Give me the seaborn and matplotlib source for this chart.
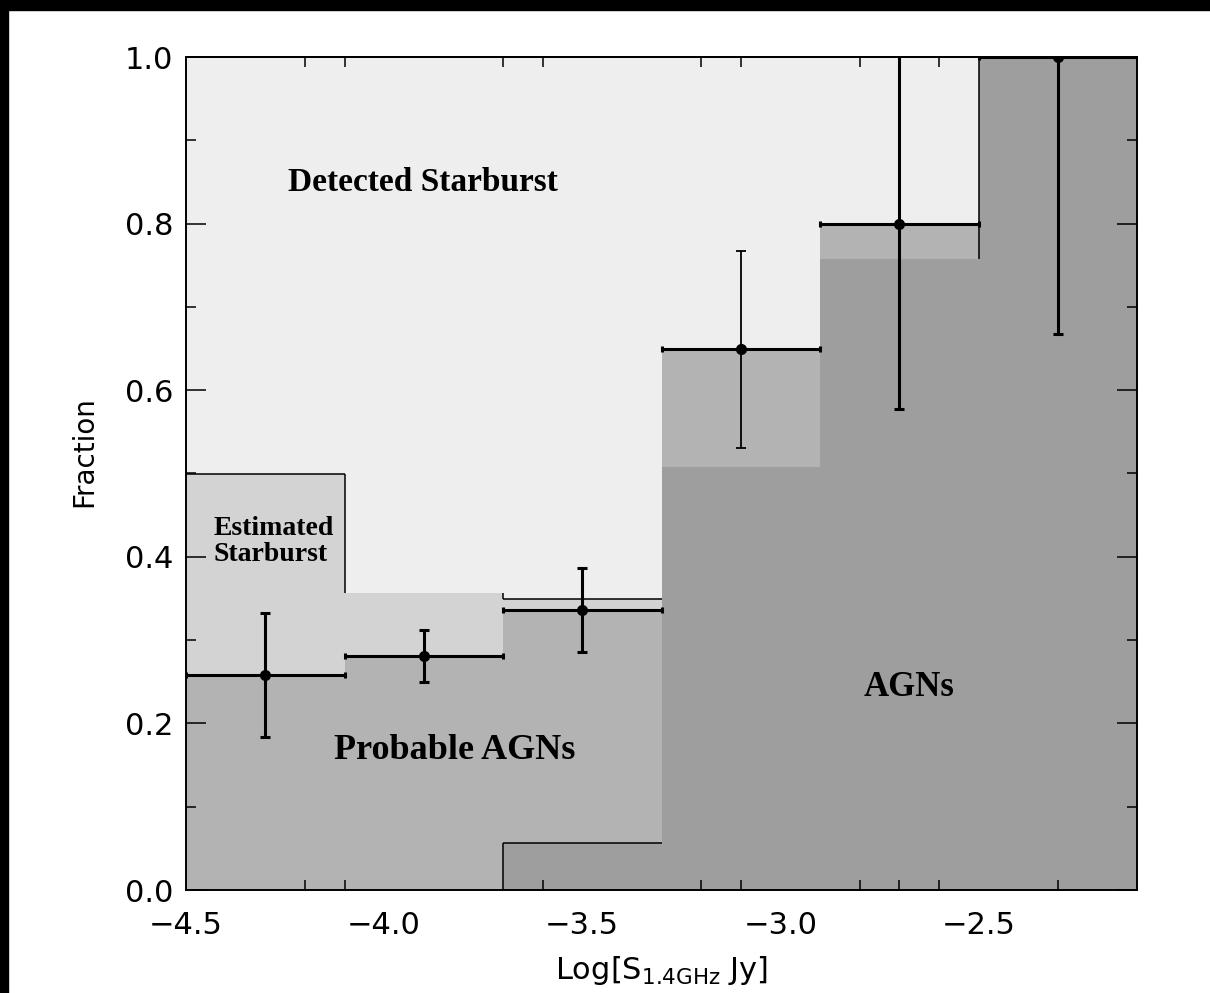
import numpy as np
import matplotlib
matplotlib.use('Agg')
import matplotlib.pyplot as plt
import seaborn as sns
from matplotlib.patches import Rectangle

# bins in Log[S_1.4GHz / Jy]
edges = [-4.5, -4.1, -3.7, -3.3, -2.9, -2.5, -2.1]
centers = [-4.3, -3.9, -3.5, -3.1, -2.7, -2.3]

# AGN fraction with error range
frac = [0.258, 0.281, 0.336, 0.650, 0.799, 1.0]
frac_lo = [0.184, 0.250, 0.286, 0.531, 0.577, 0.668]
frac_hi = [0.332, 0.312, 0.386, 0.767, 1.02, 1.0]

# shaded regions
est_top = [0.500, 0.356, 0.349, 0.0, 0.0, 0.0]   # estimated starburst
agn_top = [0.0, 0.0, 0.057, 0.508, 0.758, 1.0]   # AGNs

xticks = [-4.5, -4.0, -3.5, -3.0, -2.5]
xminor_bot = [-4.2, -4.1, -3.6, -3.2, -3.1, -2.8, -2.7, -2.6, -2.5, -2.3]
xminor_top = [-4.2, -4.1, -3.7, -3.6, -3.2, -3.1, -2.8, -2.6]

sns.set_style('ticks')
plt.rcParams['font.family'] = ['DejaVu Sans']
plt.rcParams['mathtext.default'] = 'regular'
plt.rcParams['axes.linewidth'] = 1.4
for key in ['text.color', 'axes.labelcolor', 'xtick.color', 'ytick.color', 'axes.edgecolor']:
    plt.rcParams[key] = 'black'

fig = plt.figure(figsize=(12.1, 9.93), dpi=100)
ax = fig.add_axes([186/1210, 1 - 890/993, 951/1210, 833/993])
ax.set_facecolor('#eeeeee')

# filled steps
for vals, col in [(est_top, '#d3d3d3'), (frac, '#b3b3b3'), (agn_top, '#9d9e9d')]:
    sns.histplot(x=centers, weights=vals, bins=edges, element='step', fill=True,
                 color=col, alpha=1, linewidth=0, ax=ax)

# partial outlines
ax.hlines([est_top[0], est_top[2]], [edges[0], edges[2]], [edges[1], edges[3]], color='k', lw=1.1)
ax.vlines(edges[1], est_top[1], est_top[0], color='k', lw=1.1)
ax.vlines(edges[2], est_top[2], est_top[1], color='k', lw=1.1)
ax.vlines(edges[2], 0, agn_top[2], color='k', lw=1.1)
ax.hlines(agn_top[2], edges[2], edges[3], color='k', lw=1.1)
ax.vlines(edges[5], agn_top[4], agn_top[5], color='k', lw=1.1)

# error bars
vlw = [2.2, 2.2, 2.2, 1.3, 2.2, 2.2]
for i in range(len(centers)):
    ax.errorbar(centers[i], frac[i],
                yerr=[[frac[i] - frac_lo[i]], [frac_hi[i] - frac[i]]],
                fmt='none', ecolor='k', elinewidth=vlw[i], capsize=3.6, capthick=vlw[i])
half = np.diff(edges) / 2
ax.errorbar(centers, frac, xerr=half, fmt='o', color='k', ms=7,
            elinewidth=2.2, capsize=2.5, capthick=2.2)

# region labels
serif = dict(family='Liberation Serif', weight='bold', color='k')
ax.text(-4.243, 0.8395, 'Detected Starburst', fontsize=24, va='baseline', **serif)
ax.text(-4.431, 0.418, 'Estimated\nStarburst', fontsize=20, va='center', ha='left',
        linespacing=1.05, **serif)
ax.text(-4.127, 0.157, 'Probable AGNs', fontsize=26, va='baseline', **serif)
ax.text(-2.79, 0.233, 'AGNs', fontsize=25, va='baseline', **serif)

ax.set_axisbelow(False)
ax.set_xlim(edges[0], edges[-1])
ax.set_ylim(0, 1.0)
ax.set_xticks(xticks)
ax.set_xticklabels([f'\u2212{abs(t):.1f}' for t in xticks])
ax.set_xticks(xminor_bot, minor=True)
ax.set_yticks([0.0, 0.2, 0.4, 0.6, 0.8, 1.0])
ax.set_yticks(np.arange(0.1, 1.0, 0.2), minor=True)
ax.yaxis.set_ticks_position('both')
ax.tick_params(axis='x', which='major', length=0, labelsize=22, pad=15)
ax.tick_params(axis='x', which='minor', direction='in', length=7.2, width=1.1, top=False)
ax.tick_params(axis='y', which='major', direction='in', length=14.4, width=1.1,
               labelsize=22, pad=9, left=True, right=True, labelright=False)
ax.tick_params(axis='y', which='minor', direction='in', length=7.2, width=1.1,
               left=True, right=True)

top = ax.secondary_xaxis('top')
top.set_xticks([])
top.set_xticks(xminor_top, minor=True)
top.tick_params(axis='x', which='minor', direction='in', length=7.2, width=1.1, color='k')
top.tick_params(axis='x', which='major', length=0, labeltop=False)

ax.set_xlabel('Log[S$_{1.4GHz}$ Jy]', fontsize=22, labelpad=10)
ax.set_ylabel('Fraction', fontsize=20)
ax.yaxis.set_label_coords(-0.092, 0.526)
for s in ax.spines.values():
    s.set_color('k')
    s.set_zorder(5)

# black frame edges from the scan
fig.add_artist(Rectangle((0, 0), 8/1210, 1, transform=fig.transFigure, color='k'))
fig.add_artist(Rectangle((0, 1 - 10/993), 1, 10/993, transform=fig.transFigure, color='k'))

fig.savefig('out.png', dpi=100)
